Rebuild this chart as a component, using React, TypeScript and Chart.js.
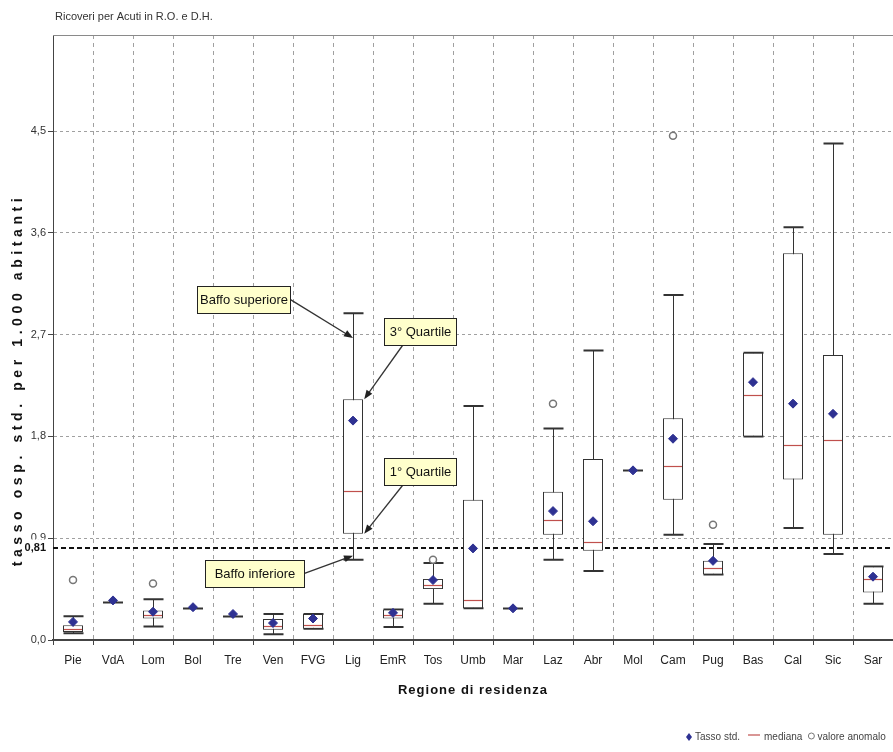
import React, { useEffect, useRef } from "react";
import { Chart, registerables } from "chart.js";

Chart.register(...registerables);

const categories = ["Pie", "VdA", "Lom", "Bol", "Tre", "Ven", "FVG", "Lig", "EmR", "Tos", "Umb", "Mar", "Laz", "Abr", "Mol", "Cam", "Pug", "Bas", "Cal", "Sic", "Sar"];
const whiskerLow = [0.06, 0.34, 0.12, 0.28, 0.21, 0.05, 0.10, 0.71, 0.115, 0.32, 0.28, 0.28, 0.71, 0.61, 1.50, 0.93, 0.58, 1.80, 0.99, 0.76, 0.32];
const quartile1 = [0.07, 0.34, 0.19, 0.28, 0.21, 0.09, 0.10, 0.94, 0.19, 0.45, 0.28, 0.28, 0.93, 0.79, 1.50, 1.24, 0.58, 1.80, 1.42, 0.93, 0.42];
const medianValues = [0.10, 0.34, 0.22, 0.28, 0.21, 0.12, 0.13, 1.32, 0.22, 0.49, 0.35, 0.28, 1.06, 0.87, 1.50, 1.54, 0.64, 2.17, 1.72, 1.77, 0.54];
const quartile3 = [0.13, 0.34, 0.26, 0.28, 0.21, 0.185, 0.23, 2.13, 0.27, 0.54, 1.24, 0.28, 1.31, 1.60, 1.50, 1.96, 0.70, 2.54, 3.42, 2.52, 0.65];
const whiskerHigh = [0.21, 0.34, 0.36, 0.28, 0.21, 0.23, 0.23, 2.89, 0.27, 0.68, 2.07, 0.28, 1.87, 2.56, 1.50, 3.05, 0.85, 2.54, 3.65, 4.39, 0.65];
const meanValues = [0.16, 0.35, 0.25, 0.29, 0.23, 0.15, 0.19, 1.94, 0.24, 0.53, 0.81, 0.28, 1.14, 1.05, 1.50, 1.78, 0.70, 2.28, 2.09, 2.00, 0.56];
const outlierValues = [0.53, null, 0.50, null, null, null, null, null, null, 0.71, null, null, 2.09, null, null, 4.46, 1.02, null, null, null, null];
const yTicks = [0, 0.9, 1.8, 2.7, 3.6, 4.5];
const yMax = 5.35;
const referenceValue = 0.81;

const titleText = "Ricoveri per Acuti in R.O. e D.H.";
const yTitle = "tasso osp. std. per 1.000 abitanti";
const xTitle = "Regione di residenza";
const legendItems = ["Tasso std.", "mediana", "valore anomalo"];

// callouts anchored on the Lig box (category offset / value units)
const calloutCategory = 7;
const callouts = [
  { text: "Baffo superiore", dx: -2.75, v: 3.01, w: 93, start: "right", tipDx: 0, tipV: 2.67 },
  { text: "3° Quartile", dx: 1.675, v: 2.73, w: 72, start: "bottom", tipDx: 0.28, tipV: 2.13 },
  { text: "1° Quartile", dx: 1.675, v: 1.49, w: 72, start: "bottom", tipDx: 0.28, tipV: 0.94 },
  { text: "Baffo inferiore", dx: -2.475, v: 0.59, w: 99, start: "right", tipDx: 0, tipV: 0.745 },
];

const NARROW = "'Liberation Sans Narrow', 'Arial Narrow', 'Liberation Sans', Arial, sans-serif";
const SANS = "'Liberation Sans', Arial, sans-serif";
const MEAN_COLOR = "#2e3192";
const MEDIAN_COLOR = "#c0504d";
const BOX_COLOR = "#333333";

function arrow(ctx: CanvasRenderingContext2D, x1: number, y1: number, x2: number, y2: number) {
  const ang = Math.atan2(y2 - y1, x2 - x1);
  const len = 9;
  const half = 3.5;
  ctx.save();
  ctx.strokeStyle = "#333";
  ctx.fillStyle = "#222";
  ctx.lineWidth = 1.3;
  ctx.beginPath();
  ctx.moveTo(x1, y1);
  ctx.lineTo(x2 - Math.cos(ang) * len * 0.8, y2 - Math.sin(ang) * len * 0.8);
  ctx.stroke();
  ctx.beginPath();
  ctx.moveTo(x2, y2);
  ctx.lineTo(x2 - Math.cos(ang) * len + Math.sin(ang) * half, y2 - Math.sin(ang) * len - Math.cos(ang) * half);
  ctx.lineTo(x2 - Math.cos(ang) * len - Math.sin(ang) * half, y2 - Math.sin(ang) * len + Math.cos(ang) * half);
  ctx.closePath();
  ctx.fill();
  ctx.restore();
}

const boxPlugin = {
  id: "boxPlugin",
  beforeDatasetsDraw(chart: any) {
    const { ctx, chartArea, scales } = chart;
    const x = scales.x;
    const y = scales.y;
    const band = x.getPixelForValue(1) - x.getPixelForValue(0);
    const half = band * 0.25;
    // top frame line
    ctx.save();
    ctx.strokeStyle = "#8a8a8a";
    ctx.lineWidth = 1;
    ctx.beginPath();
    ctx.moveTo(chartArea.left, chartArea.top + 0.5);
    ctx.lineTo(chartArea.right, chartArea.top + 0.5);
    ctx.stroke();
    // reference line
    const ry = Math.round(y.getPixelForValue(referenceValue));
    ctx.strokeStyle = "#111";
    ctx.lineWidth = 2;
    ctx.setLineDash([5, 3]);
    ctx.beginPath();
    ctx.moveTo(chartArea.left, ry);
    ctx.lineTo(chartArea.right, ry);
    ctx.stroke();
    ctx.setLineDash([]);
    // whiskers
    categories.forEach((_, i) => {
      if (quartile1[i] === quartile3[i]) return;
      const cx = Math.round(x.getPixelForValue(i)) + 0.5;
      const lo = y.getPixelForValue(whiskerLow[i]);
      const hi = y.getPixelForValue(whiskerHigh[i]);
      ctx.strokeStyle = BOX_COLOR;
      ctx.lineWidth = 1;
      ctx.beginPath();
      ctx.moveTo(cx, lo);
      ctx.lineTo(cx, hi);
      ctx.stroke();
      ctx.lineWidth = 2;
      ctx.beginPath();
      ctx.moveTo(cx - half, lo);
      ctx.lineTo(cx + half, lo);
      ctx.moveTo(cx - half, hi);
      ctx.lineTo(cx + half, hi);
      ctx.stroke();
    });
    ctx.restore();
  },
  afterDatasetDraw(chart: any, args: any) {
    if (args.index !== 0) return;
    const { ctx, scales } = chart;
    const x = scales.x;
    const y = scales.y;
    const band = x.getPixelForValue(1) - x.getPixelForValue(0);
    const half = band * 0.25;
    ctx.save();
    categories.forEach((_, i) => {
      const cx = x.getPixelForValue(i);
      const my = Math.round(y.getPixelForValue(medianValues[i])) + 0.5;
      const single = quartile1[i] === quartile3[i];
      ctx.strokeStyle = single ? BOX_COLOR : MEDIAN_COLOR;
      ctx.lineWidth = single ? 2 : 1.2;
      ctx.beginPath();
      ctx.moveTo(cx - half + (single ? 0 : 1), my);
      ctx.lineTo(cx + half - (single ? 0 : 1), my);
      ctx.stroke();
    });
    ctx.restore();
  },
  afterDraw(chart: any) {
    const { ctx, chartArea, scales } = chart;
    const x = scales.x;
    const y = scales.y;
    ctx.save();
    // title
    ctx.fillStyle = "#333";
    ctx.font = `11px ${NARROW}`;
    ctx.textAlign = "left";
    ctx.textBaseline = "middle";
    ctx.fillText(titleText, 55, 17);

    // 0,81 label
    const ry = y.getPixelForValue(referenceValue);
    ctx.fillStyle = "#ffffff";
    ctx.fillRect(18, ry - 9, 30, 15);
    ctx.fillStyle = "#111";
    ctx.font = `bold 11px ${NARROW}`;
    ctx.textAlign = "right";
    ctx.fillText("0,81", 46, ry);

    // y title
    ctx.save();
    ctx.translate(18, 380);
    ctx.rotate(-Math.PI / 2);
    ctx.font = `bold 14px ${SANS}`;
    (ctx as any).letterSpacing = "4.6px";
    ctx.textAlign = "center";
    ctx.fillStyle = "#111";
    ctx.fillText(yTitle, 0, 0);
    ctx.restore();

    // x title
    ctx.save();
    ctx.font = `bold 13px ${SANS}`;
    (ctx as any).letterSpacing = "1px";
    ctx.textAlign = "center";
    ctx.fillStyle = "#111";
    ctx.fillText(xTitle, (chartArea.left + chartArea.right) / 2, 690);
    ctx.restore();

    // callouts
    const baseX = x.getPixelForValue(calloutCategory);
    const band = x.getPixelForValue(1) - x.getPixelForValue(0);
    callouts.forEach((c) => {
      const cx = baseX + c.dx * band;
      const cy = y.getPixelForValue(c.v);
      const h = 27;
      const left = Math.round(cx - c.w / 2) + 0.5;
      const top = Math.round(cy - h / 2) + 0.5;
      const tipX = baseX + c.tipDx * band;
      const tipY = y.getPixelForValue(c.tipV);
      let sx: number;
      let sy: number;
      if (c.start === "right") {
        sx = left + c.w;
        sy = cy;
      } else {
        sx = left + 18;
        sy = top + h;
      }
      arrow(ctx, sx, sy, tipX, tipY);
      ctx.fillStyle = "#ffffcc";
      ctx.fillRect(left, top, c.w, h);
      ctx.strokeStyle = "#222";
      ctx.lineWidth = 1;
      ctx.strokeRect(left, top, c.w, h);
      ctx.fillStyle = "#111";
      ctx.font = `13px ${NARROW}`;
      ctx.textAlign = "center";
      ctx.textBaseline = "middle";
      ctx.fillText(c.text, left + c.w / 2, cy + 1);
    });

    // legend
    const ly = 737;
    ctx.font = `10px ${SANS}`;
    ctx.textAlign = "left";
    ctx.textBaseline = "middle";
    let lx = 686;
    ctx.fillStyle = MEAN_COLOR;
    ctx.beginPath();
    ctx.moveTo(lx + 3, ly - 4);
    ctx.lineTo(lx + 6, ly);
    ctx.lineTo(lx + 3, ly + 4);
    ctx.lineTo(lx, ly);
    ctx.closePath();
    ctx.fill();
    lx += 9;
    ctx.fillStyle = "#444";
    ctx.fillText(legendItems[0], lx, ly);
    lx += ctx.measureText(legendItems[0]).width + 8;
    ctx.strokeStyle = MEDIAN_COLOR;
    ctx.lineWidth = 1.2;
    ctx.beginPath();
    ctx.moveTo(lx, ly - 2);
    ctx.lineTo(lx + 12, ly - 2);
    ctx.stroke();
    lx += 16;
    ctx.fillText(legendItems[1], lx, ly);
    lx += ctx.measureText(legendItems[1]).width + 9;
    ctx.strokeStyle = "#777";
    ctx.lineWidth = 1;
    ctx.beginPath();
    ctx.arc(lx, ly - 1, 3, 0, Math.PI * 2);
    ctx.stroke();
    lx += 6;
    ctx.fillText(legendItems[2], lx, ly);
    ctx.restore();
  },
};

export default function App() {
  const ref = useRef<HTMLCanvasElement>(null);
  useEffect(() => {
    if (!ref.current) return;
    const chart = new Chart(ref.current, {
      type: "bar",
      data: {
        labels: categories,
        datasets: [
          {
            type: "bar",
            label: "box",
            data: categories.map((_, i) => (quartile1[i] === quartile3[i] ? null : [quartile1[i], quartile3[i]])) as any,
            backgroundColor: "#ffffff",
            borderColor: BOX_COLOR,
            borderWidth: 1,
            borderSkipped: false,
            barPercentage: 0.5,
            categoryPercentage: 1,
            order: 3,
          },
          {
            type: "line",
            label: "Tasso std.",
            data: meanValues,
            showLine: false,
            pointStyle: "rectRot",
            pointRadius: 4.5,
            pointBackgroundColor: MEAN_COLOR,
            pointBorderColor: MEAN_COLOR,
            pointBorderWidth: 1,
            order: 1,
          },
          {
            type: "line",
            label: "valore anomalo",
            data: outlierValues,
            showLine: false,
            pointStyle: "circle",
            pointRadius: 3.5,
            pointBackgroundColor: "#ffffff",
            pointBorderColor: "#777777",
            pointBorderWidth: 1.5,
            order: 2,
          },
        ],
      },
      options: {
        responsive: false,
        animation: false,
        layout: { autoPadding: false, padding: { top: 35, right: 0, left: 0, bottom: 0 } },
        plugins: { legend: { display: false }, tooltip: { enabled: false } },
        scales: {
          x: {
            grid: { color: "#a0a0a0", tickColor: "#444", tickLength: 5, offset: true, lineWidth: 1 },
            border: { color: "#444", width: 2, dash: [4, 4] },
            ticks: { font: { family: NARROW, size: 12 }, color: "#222", padding: 8, autoSkip: false, maxRotation: 0 },
            afterFit: (s: any) => {
              s.height = 112;
              s.paddingLeft = 0;
              s.paddingRight = 0;
            },
          },
          y: {
            min: 0,
            max: yMax,
            afterBuildTicks: (s: any) => {
              s.ticks = yTicks.map((v) => ({ value: v }));
            },
            grid: {
              color: (c: any) => (c.tick && c.tick.value === 0 ? "rgba(0,0,0,0)" : "#a0a0a0"),
              tickColor: "#444",
              tickLength: 5,
              lineWidth: 1,
            },
            border: { color: "#444", width: 1, dash: [3, 3] },
            ticks: {
              font: { family: NARROW, size: 11 },
              color: "#333",
              padding: 2,
              callback: (v: any) => Number(v).toFixed(1).replace(".", ","),
            },
            afterFit: (s: any) => {
              s.width = 53;
              s.paddingTop = 0;
              s.paddingBottom = 0;
            },
          },
        },
      },
      plugins: [boxPlugin],
    } as any);
    return () => chart.destroy();
  }, []);
  return (
    <div style={{ position: "fixed", left: 0, top: 0, width: 893, height: 752, background: "#fff" }}>
      <canvas ref={ref} width={893} height={752} style={{ width: 893, height: 752, display: "block" }} />
    </div>
  );
}
